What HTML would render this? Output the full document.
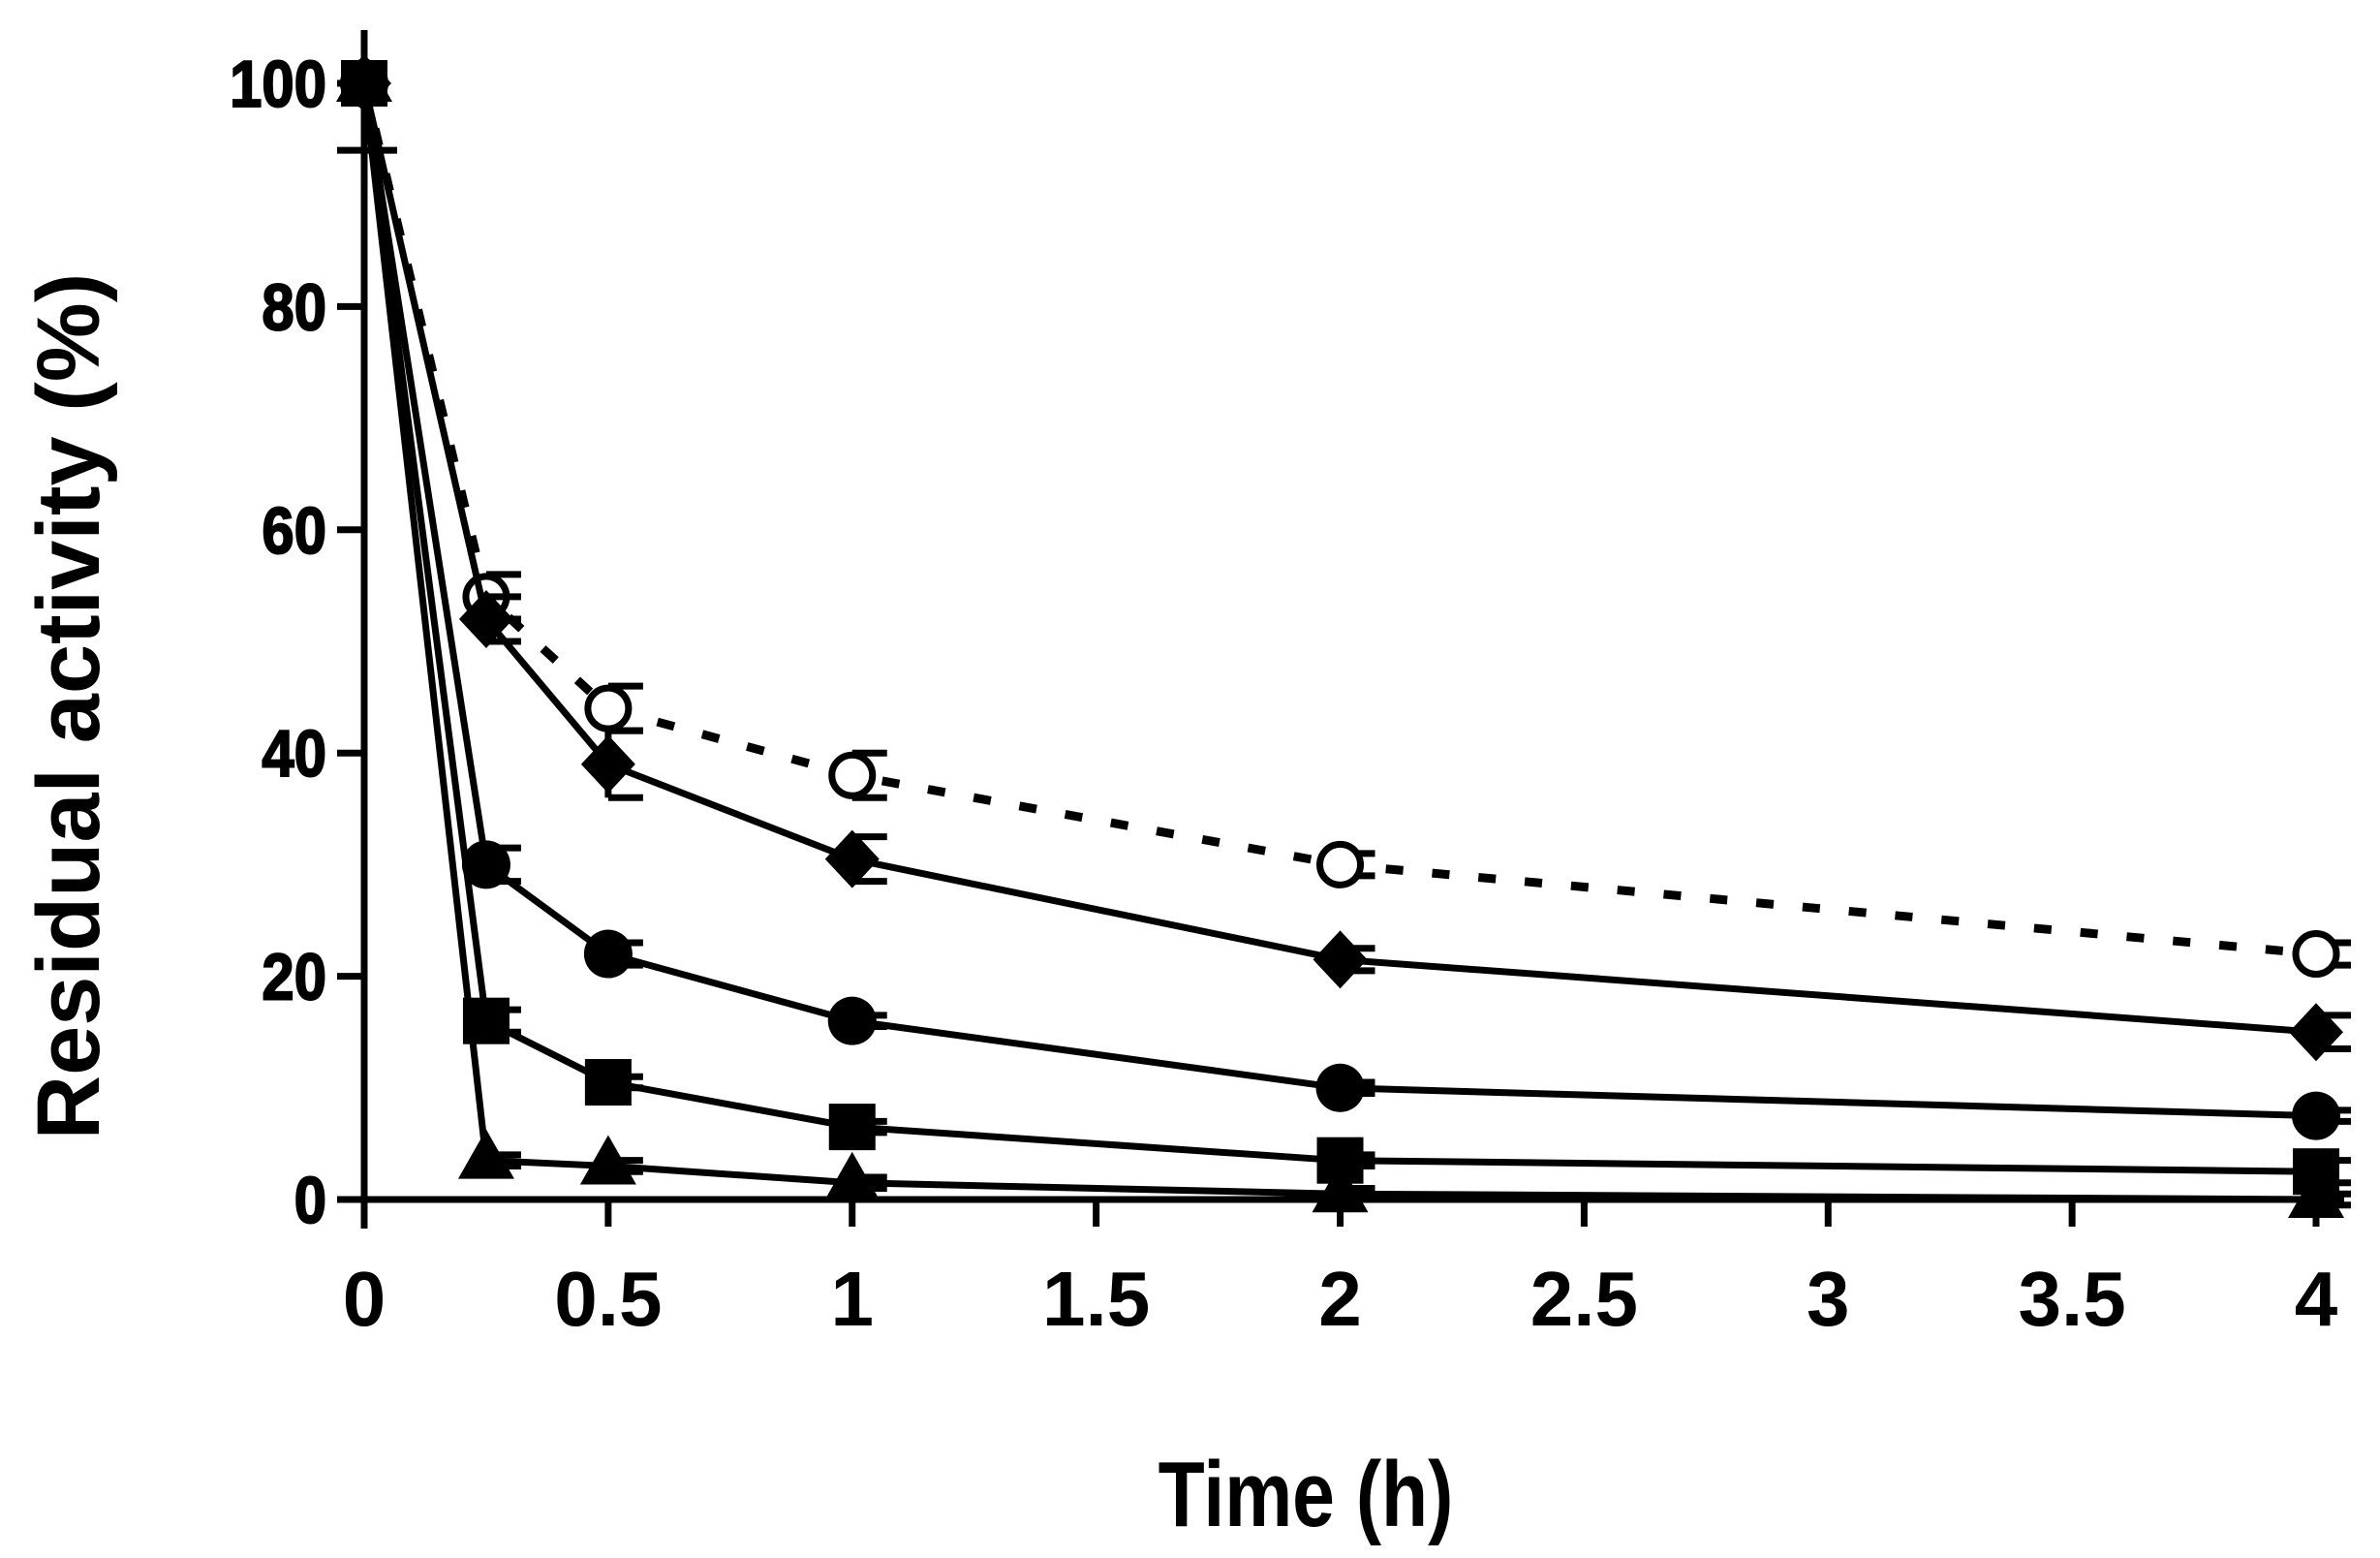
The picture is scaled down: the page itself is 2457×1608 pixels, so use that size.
<!DOCTYPE html>
<html><head><meta charset="utf-8"><style>
html,body{margin:0;padding:0;background:#fff;}
svg{display:block;}
text{font-family:"Liberation Sans",sans-serif;font-weight:bold;fill:#000;}
</style></head><body>
<svg id="chart" width="2457" height="1608" viewBox="0 0 2457 1608" xmlns="http://www.w3.org/2000/svg">
<g id="axes"></g><g id="plot"></g>
</svg>
<script>
const times = [0, 0.25, 0.5, 1, 2, 4];
const xTicks = [0, 0.5, 1, 1.5, 2, 2.5, 3, 3.5, 4];
const xTickLabels = ["0","0.5","1","1.5","2","2.5","3","3.5","4"];
const yTicks = [0, 20, 40, 60, 80, 100];
const openCircle = [100, 54, 44, 38, 30, 22];
const openCircleErr = [0, 2, 2, 2, 1, 1];
const diamond = [100, 52, 39, 30.5, 21.5, 15];
const diamondErr = [0, 2, 3, 2, 1, 1.5];
const circle = [100, 30, 22, 16, 10, 7.5];
const circleErr = [0, 1.5, 1, 0.5, 0.5, 0.5];
const square = [100, 16, 10.5, 6.5, 3.5, 2.5];
const squareErr = [0, 1, 0.5, 0.5, 0.5, 1];
const triangle = [100, 3.5, 3, 1.5, 0.5, 0];
const triangleErr = [0, 0.5, 0.5, 0.5, 0.5, 0.5];

const X0 = 376, XPH = 503.75, Y0 = 1238, YPU = 11.52;
const sx = t => X0 + t * XPH;
const sy = v => Y0 - v * YPU;
const NS = "http://www.w3.org/2000/svg";
function mk(tag, attrs, parent){const e=document.createElementNS(NS,tag);for(const k in attrs)e.setAttribute(k,attrs[k]);parent.appendChild(e);return e;}
const axes=document.getElementById('axes'), plot=document.getElementById('plot');

let a=mk('line',{x1:X0,y1:31,x2:X0,y2:1268,stroke:'#000','stroke-width':7},axes);


a=mk('line',{x1:348,y1:Y0,x2:2420,y2:Y0,stroke:'#000','stroke-width':7},axes);


a=mk('line',{x1:348,y1:sy(94),x2:410,y2:sy(94),stroke:'#000','stroke-width':7},axes);


yTicks.forEach(v=>{
  const t=mk('line',{x1:348,y1:sy(v),x2:X0,y2:sy(v),stroke:'#000','stroke-width':7},axes);
  
  
  const l=mk('text',{x:0,y:0,'text-anchor':'end','font-size':68,stroke:'#000','stroke-width':2,transform:`translate(337,${sy(v)+24}) scale(0.88,1)`},axes);
  l.textContent=v;
  
  
});
xTicks.forEach((v,i)=>{
  const t=mk('line',{x1:sx(v),y1:Y0,x2:sx(v),y2:1266,stroke:'#000','stroke-width':7},axes);
  
  
  const l=mk('text',{x:sx(v),y:1368,'text-anchor':'middle','font-size':80},axes);
  l.textContent=xTickLabels[i];
  
  
});
let tt=mk('text',{x:0,y:0,'text-anchor':'middle','font-size':96,transform:'translate(1348,1575) scale(0.82,1)'},axes);
tt.textContent='Time (h)';


tt=mk('text',{x:0,y:0,'text-anchor':'middle','font-size':92,transform:'translate(102,729) rotate(-90)'},axes);
tt.textContent='Residual activity (%)';



function marker(kind,cx,cy,g){
  if(kind==='open') return mk('circle',{cx,cy,r:21,fill:'#fff',stroke:'#000','stroke-width':7},g);
  if(kind==='circle') return mk('circle',{cx,cy,r:25,fill:'#000'},g);
  if(kind==='square') return mk('rect',{x:cx-24,y:cy-24,width:48,height:48,fill:'#000'},g);
  if(kind==='diamond') return mk('polygon',{points:`${cx},${cy-30} ${cx+28},${cy} ${cx},${cy+30} ${cx-28},${cy}`,fill:'#000'},g);
  return mk('polygon',{points:`${cx},${cy-32} ${cx+29},${cy+19} ${cx-29},${cy+19}`,fill:'#000'},g);
}
function series(name,vals,errs,kind,dashed){
  const g=mk('g',{},plot);
  
  
  const pts=times.map((t,i)=>sx(t)+','+sy(vals[i])).join(' ');
  const l=mk('polyline',{points:pts,fill:'none',stroke:'#000','stroke-width':dashed?9:7,'stroke-dasharray':dashed?'18,30':'none'},g);
  
  
  times.forEach((t,i)=>{
    const cx=sx(t), e=errs[i];
    if(e>0){
      const eb=mk('path',{d:`M${cx},${sy(vals[i]+e)}V${sy(vals[i]-e)}M${cx},${sy(vals[i]+e)}H${cx+36}M${cx},${sy(vals[i]-e)}H${cx+36}`,stroke:'#000','stroke-width':7,fill:'none'},g);
      
      
    }
    const m=marker(kind,cx,sy(vals[i]),g);
    
    
  });
}
series('open-circle',openCircle,openCircleErr,'open',true);
series('diamond',diamond,diamondErr,'diamond',false);
series('circle',circle,circleErr,'circle',false);
series('triangle',triangle,triangleErr,'triangle',false);
series('square',square,squareErr,'square',false);
</script>
</body></html>
